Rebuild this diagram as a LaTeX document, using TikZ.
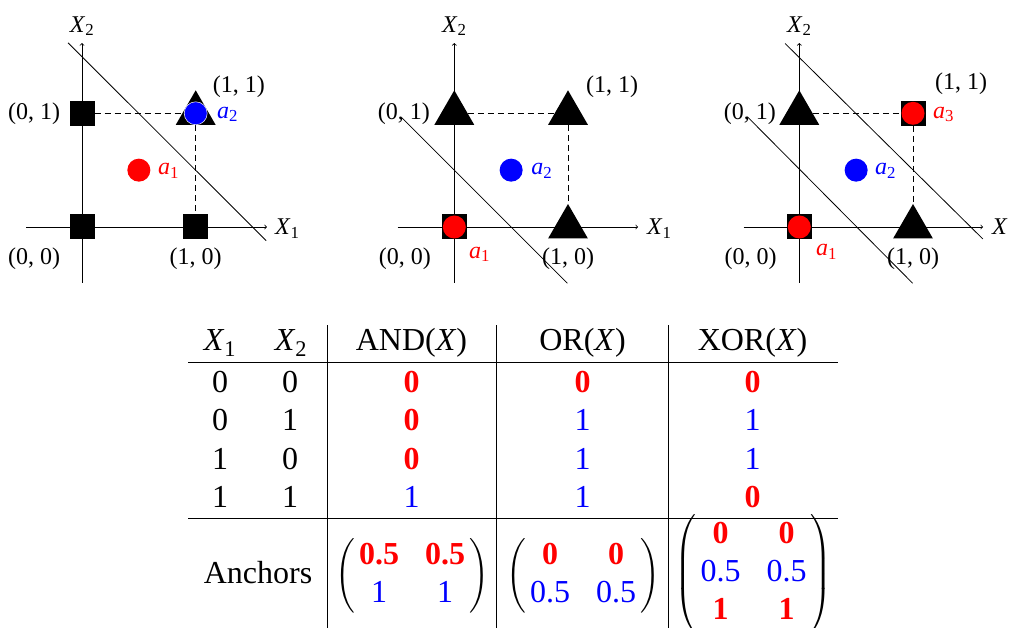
\documentclass[tikz,border=0pt]{standalone}
\usepackage{amsmath}
\usepackage{fontspec}
\setmainfont{Liberation Serif}
\usetikzlibrary{shapes.geometric}

\newcommand\plotfont{\fontsize{24}{29}\selectfont}
\newcommand\tabfont{\fontsize{32}{38}\selectfont}
% coloured table entries: bold red for 0-class, plain blue for 1-class
\newcommand\rb[1]{\text{\color{red}\bfseries #1}}
\newcommand\bl[1]{\text{\color{blue}#1}}
\newcommand\anchmat[1]{\setlength{\arraycolsep}{13pt}$\left(\begin{array}{@{\hspace{4pt}}cc@{\hspace{4pt}}}#1\end{array}\right)$}

\tikzset{
  axisline/.style={->, line width=0.8pt},
  sepline/.style={line width=0.8pt},
  guide/.style={dash pattern=on 6pt off 4pt, line width=0.8pt},
  sq/.style={rectangle, fill=black, minimum size=25pt, inner sep=0pt},
  tri/.style={regular polygon, regular polygon sides=3, fill=black, minimum size=46pt, inner sep=0pt},
  dot/.style={circle, minimum size=23pt, inner sep=0pt},
  plab/.style={font=\plotfont, inner sep=0pt},
  tc/.style={font=\tabfont, inner sep=0pt, anchor=base},
  hrule/.style={line width=1.1pt},
  vrule/.style={line width=0.8pt}
}

\begin{document}
\begin{tikzpicture}[x=1pt, y=-1pt]
\useasboundingbox (0,0) rectangle (1009,628);

% ---------------- AND plane ----------------
\begin{scope}[shift={(82,227)}, x=113.7pt, y=113.7pt]
  \coordinate (A-xs) at (-0.49,0);  \coordinate (A-xe) at (1.627,0);
  \coordinate (A-ys) at (0,-0.49);  \coordinate (A-ye) at (0,1.618);
  \draw[axisline] (A-xs) -- (A-xe);
  \draw[axisline] (A-ys) -- (A-ye);
  \coordinate (A-ls) at (-0.123,1.62); \coordinate (A-le) at (1.62,-0.12);
  \draw[sepline] (A-ls) -- (A-le);
  \node[sq]  (A-p00) at (0,0) {};
  \node[sq]  (A-p01) at (0,1) {};
  \node[sq]  (A-p10) at (1,0) {};
  \node[tri] (A-p11) at (1,1) {};
  \draw[guide] (A-p01) -- (A-p11);
  \draw[guide] (A-p11) -- (A-p10);
  \node[dot, fill=blue, draw=white, line width=0.5pt] (A-a2) at (1,1) {};
  \node[dot, fill=red] (A-a1) at (0.5,0.5) {};
  \node[plab, anchor=east] (A-l01) at (-0.19,1) {(0, 1)};
  \node[plab, anchor=east] (A-l00) at (-0.19,-0.28) {(0, 0)};
  \node[plab] (A-l10) at (1,-0.28) {(1, 0)};
  \node[plab, anchor=west] (A-l11) at (1.15,1.23) {(1, 1)};
  \node[plab, anchor=base west] (A-x1) at (1.697,-0.07) {\textit{X}\textsubscript{1}};
  \node[plab, anchor=base] (A-x2) at (0,1.715) {\textit{X}\textsubscript{2}};
  \node[plab, anchor=base west, text=red]  (A-t1) at (0.668,0.46) {\textit{a}\textsubscript{1}};
  \node[plab, anchor=base west, text=blue] (A-t2) at (1.187,0.958) {\textit{a}\textsubscript{2}};
\end{scope}

% ---------------- OR plane ----------------
\begin{scope}[shift={(454.3,227)}, x=113.7pt, y=113.7pt]
  \coordinate (B-xs) at (-0.498,0); \coordinate (B-xe) at (1.616,0);
  \coordinate (B-ys) at (0,-0.49);  \coordinate (B-ye) at (0,1.618);
  \draw[axisline] (B-xs) -- (B-xe);
  \draw[axisline] (B-ys) -- (B-ye);
  \coordinate (B-ls) at (-0.46,0.96); \coordinate (B-le) at (0.995,-0.495);
  \draw[sepline] (B-ls) -- (B-le);
  \node[sq]  (B-p00) at (0,0) {};
  \node[tri] (B-p01) at (0,1) {};
  \node[tri] (B-p10) at (1,0) {};
  \node[tri] (B-p11) at (1,1) {};
  \draw[guide] (B-p01) -- (B-p11);
  \draw[guide] (B-p11) -- (B-p10);
  \node[dot, fill=red]  (B-a1) at (0,0) {};
  \node[dot, fill=blue] (B-a2) at (0.5,0.5) {};
  \node[plab, anchor=east] (B-l01) at (-0.214,1) {(0, 1)};
  \node[plab, anchor=east] (B-l00) at (-0.205,-0.28) {(0, 0)};
  \node[plab] (B-l10) at (1,-0.28) {(1, 0)};
  \node[plab, anchor=west] (B-l11) at (1.158,1.23) {(1, 1)};
  \node[plab, anchor=base west] (B-x1) at (1.695,-0.07) {\textit{X}\textsubscript{1}};
  \node[plab, anchor=base] (B-x2) at (0,1.715) {\textit{X}\textsubscript{2}};
  \node[plab, anchor=base west, text=red]  (B-t1) at (0.129,-0.273) {\textit{a}\textsubscript{1}};
  \node[plab, anchor=base west, text=blue] (B-t2) at (0.675,0.46) {\textit{a}\textsubscript{2}};
\end{scope}

% ---------------- XOR plane ----------------
\begin{scope}[shift={(799.3,227)}, x=113.7pt, y=113.7pt]
  \coordinate (C-xs) at (-0.49,0);  \coordinate (C-xe) at (1.616,0);
  \coordinate (C-ys) at (0,-0.49);  \coordinate (C-ye) at (0,1.618);
  \draw[axisline] (C-xs) -- (C-xe);
  \draw[axisline] (C-ys) -- (C-ye);
  \coordinate (C-ls) at (-0.125,1.614); \coordinate (C-le) at (1.614,-0.105);
  \draw[sepline] (C-ls) -- (C-le);
  \coordinate (C-ms) at (-0.457,0.97); \coordinate (C-me) at (0.997,-0.495);
  \draw[sepline] (C-ms) -- (C-me);
  \node[sq]  (C-p00) at (0,0) {};
  \node[tri] (C-p01) at (0,1) {};
  \node[tri] (C-p10) at (1,0) {};
  \node[sq]  (C-p11) at (1,1) {};
  \draw[guide] (C-p01) -- (C-p11);
  \draw[guide] (C-p11) -- (C-p10);
  \node[dot, fill=red]  (C-a1) at (0,0) {};
  \node[dot, fill=red]  (C-a3) at (1,1) {};
  \node[dot, fill=blue] (C-a2) at (0.5,0.5) {};
  \node[plab, anchor=east] (C-l01) at (-0.205,1) {(0, 1)};
  \node[plab, anchor=east] (C-l00) at (-0.197,-0.28) {(0, 0)};
  \node[plab] (C-l10) at (1,-0.28) {(1, 0)};
  \node[plab, anchor=west] (C-l11) at (1.193,1.26) {(1, 1)};
  \node[plab, anchor=base west] (C-x1) at (1.695,-0.07) {\textit{X}};
  \node[plab, anchor=base] (C-x2) at (0,1.715) {\textit{X}\textsubscript{2}};
  \node[plab, anchor=base west, text=red]  (C-t1) at (0.147,-0.25) {\textit{a}\textsubscript{1}};
  \node[plab, anchor=base west, text=blue] (C-t2) at (0.665,0.46) {\textit{a}\textsubscript{2}};
  \node[plab, anchor=base west, text=red]  (C-t3) at (1.176,0.958) {\textit{a}\textsubscript{3}};
\end{scope}

% ---------------- truth table ----------------
\coordinate (r1l) at (188,362.7); \coordinate (r1r) at (838,362.7);
\coordinate (r2l) at (188,518.3); \coordinate (r2r) at (838,518.3);
\draw[hrule] (r1l) -- (r1r);
\draw[hrule] (r2l) -- (r2r);
\coordinate (v1t) at (327.7,325); \coordinate (v1b) at (327.7,628);
\coordinate (v2t) at (496.7,325); \coordinate (v2b) at (496.7,628);
\coordinate (v3t) at (668.3,325); \coordinate (v3b) at (668.3,628);
\draw[vrule] (v1t) -- (v1b);
\draw[vrule] (v2t) -- (v2b);
\draw[vrule] (v3t) -- (v3b);

\node[tc] (hx1)  at (220,350)   {\textit{X}\textsubscript{1}};
\node[tc] (hx2)  at (291,350)   {\textit{X}\textsubscript{2}};
\node[tc] (hand) at (411.5,350) {AND(\textit{X\/})};
\node[tc] (hor)  at (582.5,350) {OR(\textit{X\/})};
\node[tc] (hxor) at (752.5,350) {XOR(\textit{X\/})};

\node[tc] (a1) at (220,392) {0};   \node[tc] (b1) at (290,392) {0};
\node[tc] (c1) at (411.5,392) {\rb{0}};
\node[tc] (d1) at (582.5,392) {\rb{0}};
\node[tc] (e1) at (752.5,392) {\rb{0}};

\node[tc] (a2) at (220,430.5) {0};   \node[tc] (b2) at (290,430.5) {1};
\node[tc] (c2) at (411.5,430.5) {\rb{0}};
\node[tc] (d2) at (582.5,430.5) {\bl{1}};
\node[tc] (e2) at (752.5,430.5) {\bl{1}};

\node[tc] (a3) at (220,469) {1};   \node[tc] (b3) at (290,469) {0};
\node[tc] (c3) at (411.5,469) {\rb{0}};
\node[tc] (d3) at (582.5,469) {\bl{1}};
\node[tc] (e3) at (752.5,469) {\bl{1}};

\node[tc] (a4) at (220,507.5) {1};   \node[tc] (b4) at (290,507.5) {1};
\node[tc] (c4) at (411.5,507.5) {\bl{1}};
\node[tc] (d4) at (582.5,507.5) {\bl{1}};
\node[tc] (e4) at (752.5,507.5) {\rb{0}};

\node[tc] (anch) at (258,583) {Anchors};
\node[tc, anchor=center] (mand) at (412,576)
  {\anchmat{\rb{0.5} & \rb{0.5}\\ \bl{1} & \bl{1}}};
\node[tc, anchor=center] (mor) at (583,576)
  {\anchmat{\rb{0} & \rb{0}\\ \bl{0.5} & \bl{0.5}}};
\node[tc, anchor=center] (mxor) at (753.5,574)
  {\anchmat{\rb{0} & \rb{0}\\ \bl{0.5} & \bl{0.5}\\ \rb{1} & \rb{1}}};
\end{tikzpicture}
\end{document}
